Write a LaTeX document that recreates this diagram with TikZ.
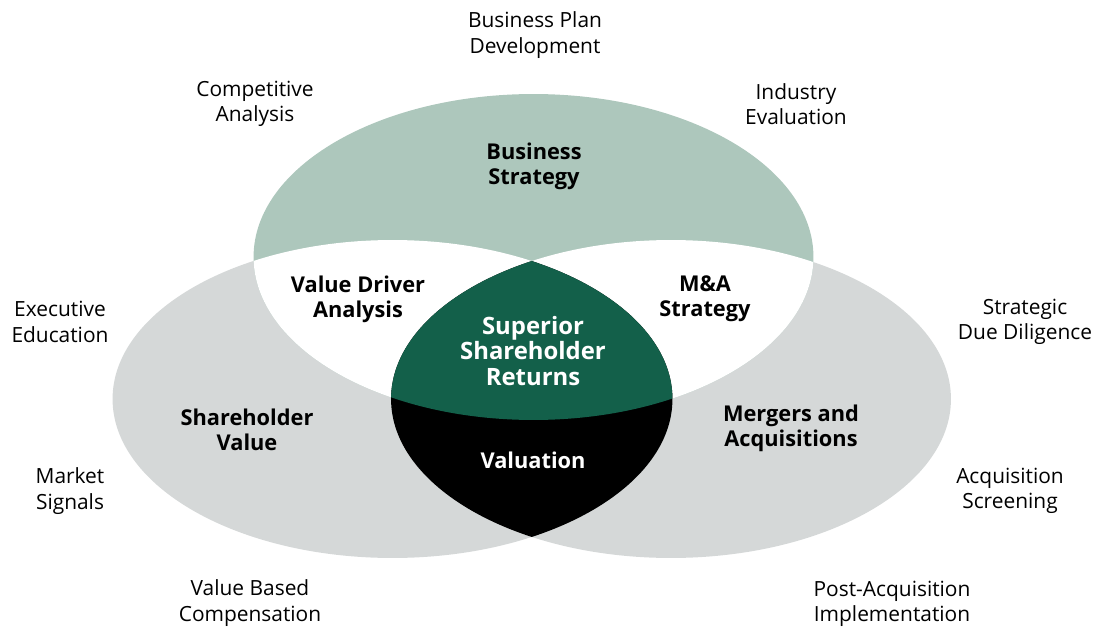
\documentclass[tikz,border=0pt]{standalone}
\usepackage{fontspec}
\setmainfont{Open Sans}
\begin{document}
\begin{tikzpicture}[x=0.02cm,y=-0.02cm,
  outer/.style={align=center,font=\fontsize{11.9}{14.4}\selectfont,text=black},
  inner/.style={align=center,font=\fontsize{12.4}{14.4}\selectfont\bfseries,text=black},
  innerw/.style={inner,text=white},
  bigw/.style={innerw,font=\fontsize{13.6}{14.4}\selectfont\bfseries}]
\definecolor{sagegreen}{HTML}{ADC7BC}
\definecolor{lightgrey}{HTML}{D5D8D8}
\definecolor{deepgreen}{HTML}{13604A}
\useasboundingbox (0,0) rectangle (1101,628);
% circle outlines
\def\topell{(533.5,257) ellipse [x radius=5.6cm, y radius=3.26cm]}
\def\leftell{(392.5,399) ellipse [x radius=5.6cm, y radius=3.18cm]}
\def\rightell{(671,399) ellipse [x radius=5.6cm, y radius=3.18cm]}
% base discs
\fill[lightgrey] \leftell;
\fill[lightgrey] \rightell;
\fill[sagegreen] \topell;
% pairwise overlaps with the top disc
\begin{scope}
  \clip \topell;
  \fill[white] \leftell;
  \fill[white] \rightell;
\end{scope}
% overlap of the two lower discs
\begin{scope}
  \clip \leftell;
  \fill[black] \rightell;
\end{scope}
% triple overlap
\begin{scope}
  \clip \topell;
  \clip \leftell;
  \fill[deepgreen] \rightell;
\end{scope}
% labels outside the discs
\node[outer] (bpd) at (535,35) {Business Plan\\Development};
\node[outer] (ca) at (255,104) {Competitive\\Analysis};
\node[outer] (ie) at (796,104) {Industry\\Evaluation};
\node[outer] (ee) at (60,322) {Executive\\Education};
\node[outer] (sdd) at (1025,322) {Strategic\\Due Diligence};
\node[outer] (ms) at (70,491) {Market\\Signals};
\node[outer] (as) at (1010,491) {Acquisition\\Screening};
\node[outer] (vbc) at (250,603) {Value Based\\Compensation};
\node[outer] (pai) at (892,604) {Post-Acquisition\\Implementation};
% labels inside the discs
\node[inner] (bs) at (534,166) {Business\\Strategy};
\node[inner] (vda) at (358,299) {Value Driver\\Analysis};
\node[inner] (mas) at (705,299) {M\&A\\Strategy};
\node[bigw] (ssr) at (533,351) {Superior\\Shareholder\\Returns};
\node[inner] (sv) at (247,430) {Shareholder\\Value};
\node[inner] (ma) at (791,428) {Mergers and\\Acquisitions};
\node[innerw] (val) at (533,460) {Valuation};
\end{tikzpicture}
\end{document}
